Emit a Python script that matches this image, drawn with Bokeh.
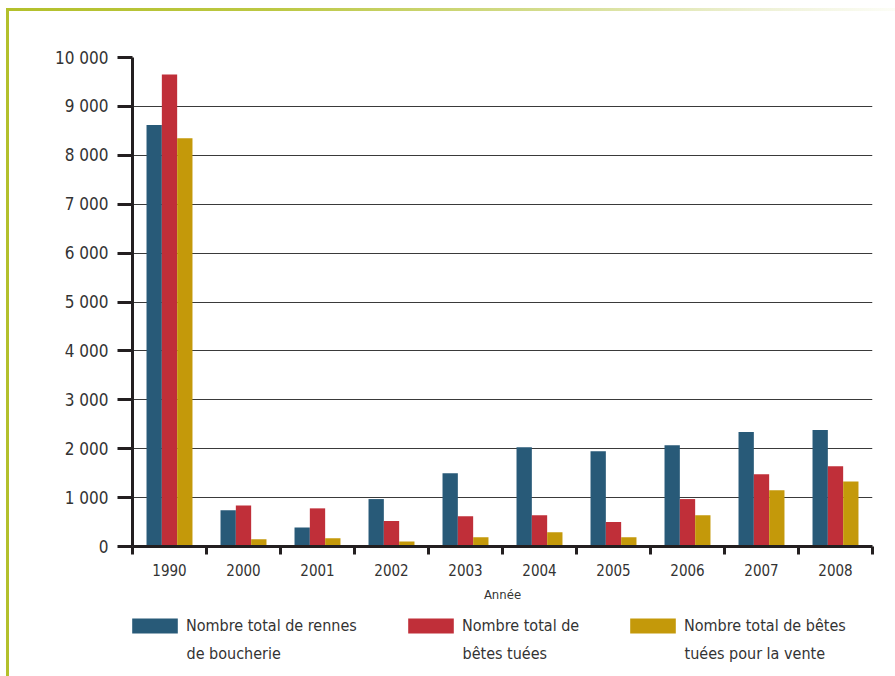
import numpy as np
from bokeh.plotting import figure
from bokeh.layouts import column
from bokeh.models import (ColumnDataSource, FixedTicker, Legend, LegendItem,
                          Label, Range1d)
from bokeh.transform import dodge
from bokeh.embed import file_html
from bokeh.resources import INLINE

# --- data -------------------------------------------------------------
years = ["1990", "2000", "2001", "2002", "2003", "2004", "2005", "2006", "2007", "2008"]
rennes_boucherie = [8620, 740, 390, 970, 1500, 2030, 1950, 2070, 2340, 2380]
betes_tuees = [9650, 840, 780, 520, 620, 640, 500, 970, 1480, 1640]
tuees_vente = [8350, 150, 170, 100, 190, 290, 190, 640, 1150, 1330]

y_ticks = [0, 1000, 2000, 3000, 4000, 5000, 6000, 7000, 8000, 9000, 10000]
y_tick_labels = ["0", "1 000", "2 000", "3 000", "4 000", "5 000",
                 "6 000", "7 000", "8 000", "9 000", "10 000"]

series_labels = [
    ("Nombre total de rennes", "de boucherie"),
    ("Nombre total de", "bêtes tuées"),
    ("Nombre total de bêtes", "tuées pour la vente"),
]

# --- styling ------------------------------------------------------------
FONT = "DejaVu Sans Condensed"
TEXT = "#333333"
AXIS = "#231f20"
COLORS = ["#285a78", "#c02f39", "#c4990a"]
BAR_W = 0.207
W = 895
H_CHART = 610
H_KEY = 66
LEFT = 132

centers = np.arange(len(years)) + 0.5
source = ColumnDataSource(dict(
    x=centers,
    rennes=rennes_boucherie,
    tuees=betes_tuees,
    vente=tuees_vente,
))
series_cols = ("rennes", "tuees", "vente")
offsets = (-BAR_W, 0, BAR_W)

# --- chart ----------------------------------------------------------------
p = figure(
    width=W, height=H_CHART,
    x_range=Range1d(0, len(years)), y_range=Range1d(0, 10000),
    output_backend="svg", toolbar_location=None,
    min_border_left=LEFT, min_border_right=23,
    min_border_top=57, min_border_bottom=64,
)
p.background_fill_color = "white"
p.border_fill_alpha = 0
p.outline_line_color = None

for offset, col, color in zip(offsets, series_cols, COLORS):
    p.vbar(x=dodge("x", offset), top=col, width=BAR_W, source=source,
           fill_color=color, line_color=None)

# x axis: year labels at the centres, short ticks between groups
xa = p.xaxis[0]
xa.ticker = FixedTicker(ticks=list(centers), minor_ticks=list(range(len(years) + 1)))
xa.major_label_overrides = {float(c): y for c, y in zip(centers, years)}
xa.axis_line_width = 3
xa.axis_line_color = AXIS
xa.major_tick_line_color = None
xa.major_tick_out = 8
xa.major_tick_in = 0
xa.minor_tick_out = 8
xa.minor_tick_in = 0
xa.minor_tick_line_width = 3
xa.minor_tick_line_color = AXIS
xa.major_label_standoff = 9
xa.major_label_text_font = FONT
xa.major_label_text_font_size = "15px"
xa.major_label_text_color = TEXT
xa.axis_label = "Année"
xa.axis_label_text_font = FONT
xa.axis_label_text_font_size = "13px"
xa.axis_label_text_font_style = "normal"
xa.axis_label_text_color = TEXT
xa.axis_label_standoff = 8

# y axis
ya = p.yaxis[0]
ya.ticker = FixedTicker(ticks=y_ticks, minor_ticks=[])
ya.major_label_overrides = dict(zip(y_ticks, y_tick_labels))
ya.axis_line_width = 3
ya.axis_line_color = AXIS
ya.major_tick_out = 15
ya.major_tick_in = 0
ya.major_tick_line_width = 3
ya.major_tick_line_color = AXIS
ya.minor_tick_line_color = None
ya.major_label_standoff = 9
ya.major_label_text_font = FONT
ya.major_label_text_font_size = "17px"
ya.major_label_text_color = TEXT

p.xgrid.visible = False
p.ygrid.ticker = FixedTicker(ticks=y_ticks)
p.ygrid.grid_line_color = "#3a3a3a"
p.ygrid.grid_line_width = 1

# --- key strip under the chart (its frame lines up with the chart's) -------
k = figure(
    width=W, height=H_KEY,
    x_range=Range1d(0, len(years)), y_range=Range1d(0, 10000),
    x_axis_type=None, y_axis_type=None,
    output_backend="svg", toolbar_location=None,
    min_border=0, min_border_left=LEFT, min_border_right=23,
)
k.background_fill_alpha = 0
k.border_fill_alpha = 0
k.outline_line_color = None
k.xgrid.visible = False
k.ygrid.visible = False

# swatch / caption positions, in pixels from the frame's left edge
key_x = [0, 276, 498]
for kx, offset, col, color, (line1, line2) in zip(key_x, offsets, series_cols,
                                                   COLORS, series_labels):
    # same series, hidden here: it only lends its colour to the key swatch
    r = k.vbar(x=dodge("x", offset), top=col, width=BAR_W, source=source,
               fill_color=color, line_color=None, visible=False)
    lg = Legend(
        items=[LegendItem(label=line1, renderers=[r])],
        location=(kx - 6, 41),
        orientation="vertical",
        glyph_width=57, glyph_height=19,
        label_standoff=3, label_height=19,
        label_text_font=FONT, label_text_font_size="16px",
        label_text_color=TEXT,
        padding=0, margin=0, spacing=0,
        border_line_color=None, background_fill_alpha=0,
        inactive_fill_alpha=0,
    )
    k.add_layout(lg, "center")
    k.add_layout(Label(
        x=kx + 54, y=23, x_units="screen", y_units="screen",
        text=line2, text_font=FONT, text_font_size="16px",
        text_color=TEXT, text_baseline="middle", text_align="left",
    ))

page = column(p, k, spacing=0)
page.styles = {
    "background": (
        "linear-gradient(to right, #b3c02b 0%, #bcc843 30%, #d3dc8c 60%, "
        "#eef1d6 85%, #fcfdf6 100%) 6px 8px / 889px 3px no-repeat, "
        "linear-gradient(#b3c02b, #b3c02b) 6px 8px / 3px 668px no-repeat, #ffffff"
    )
}

open("out.html", "w").write(file_html(page, INLINE))
